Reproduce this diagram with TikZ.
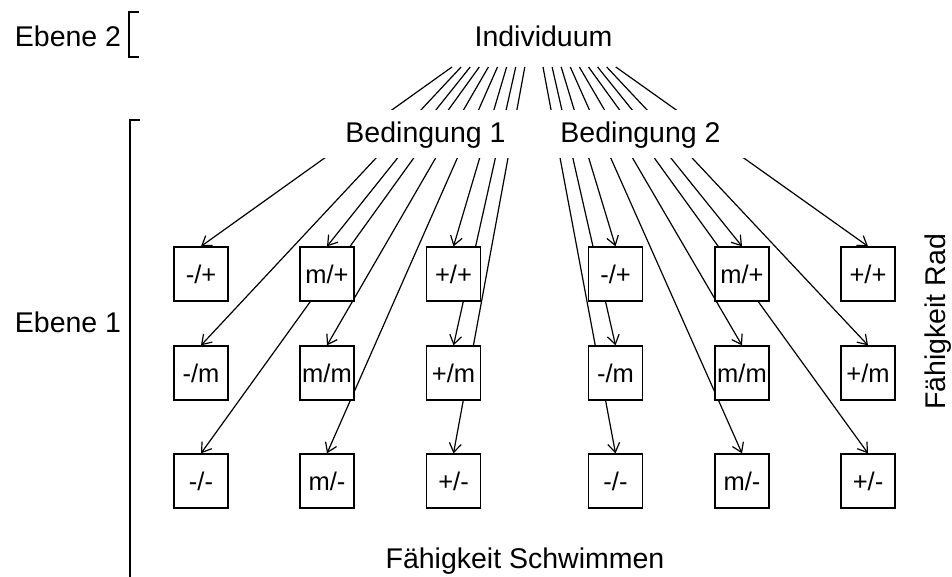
\documentclass[tikz,border=0pt]{standalone}
\usepackage{fontspec}
\setmainfont{Liberation Sans}
\usetikzlibrary{arrows.meta}
\pgfdeclarelayer{bg}
\pgfsetlayers{bg,main}
\begin{document}
\begin{tikzpicture}[x=1pt,y=-1pt,
  lbl/.style={font=\fontsize{28.5}{34}\selectfont, anchor=base, inner sep=0pt},
  cell/.style={draw, fill=white, line width=1.3pt, minimum width=54pt, minimum height=54pt, inner sep=0pt, font=\fontsize{25.5}{30}\selectfont},
  cond/.style={lbl, fill=white, inner xsep=25pt, inner ysep=0pt, text height=33pt, text depth=15pt},
  conn/.style={line width=1.2pt, -{Straight Barb[length=9pt,width=12pt,line width=1.2pt]}},
  brk/.style={line width=1.3pt}]
\useasboundingbox (0,0) rectangle (952,577);

% titles and axis labels
\node[lbl] (ind) at (543.5,47) {Individuum};
\node[lbl] (eb2) at (68,47) {Ebene 2};
\node[lbl] (eb1) at (68,332) {Ebene 1};
\node[lbl] (fs) at (525,568) {Fähigkeit Schwimmen};
\node[lbl, rotate=90] (fr) at (945,322) {Fähigkeit Rad};

% condition labels (white, hide the lines behind them)
\node[cond] (b1) at (425.5,143) {Bedingung 1};
\node[cond] (b2) at (640.5,143) {Bedingung 2};

% cells
\foreach \c/\x/\cs in {a/201/-,m/327/m,p/453.5/+}{
  \foreach \r/\y/\rs in {p/274/+,m/373/m,a/481/-}{
    \node[cell] (L\c\r) at (\x,\y) {\cs/\rs};
  }
}
\foreach \c/\x/\cs in {a/615.5/-,m/742/m,p/868/+}{
  \foreach \r/\y/\rs in {p/274/+,m/373/m,a/481/-}{
    \node[cell] (R\c\r) at (\x,\y) {\cs/\rs};
  }
}

% connectors
\begin{pgfonlayer}{bg}
\foreach \t [count=\i from 0] in {ap,am,mp,aa,mm,ma,pp,pm,pa}{
  \coordinate (sL\i) at ({452+9.1*\i},67);
  \draw[conn] (sL\i) -- (L\t.north);
}
\foreach \t [count=\i from 0] in {aa,am,ap,ma,mm,pa,mp,pm,pp}{
  \coordinate (sR\i) at ({543+9.1*\i},67);
  \draw[conn] (sR\i) -- (R\t.north);
}
\end{pgfonlayer}

% level brackets
\draw[brk] (139,12) -- (129,12) -- (129,57) -- (139,57);
\draw[brk] (140,120) -- (130,120) -- (130,577);
\end{tikzpicture}
\end{document}
